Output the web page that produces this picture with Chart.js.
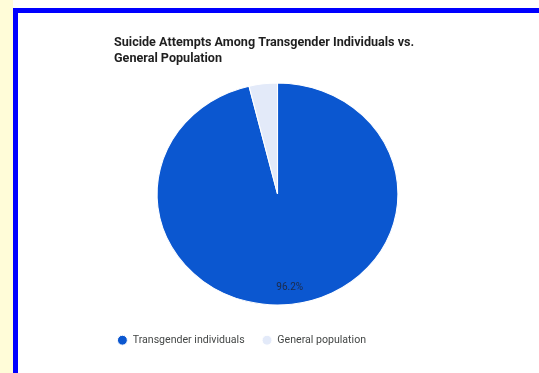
<!DOCTYPE html>
<html>
<head>
<meta charset="utf-8">
<title>Suicide Attempts Among Transgender Individuals vs. General Population</title>
<script src="https://cdn.jsdelivr.net/npm/chart.js@4.4.1/dist/chart.umd.min.js"></script>
<style>
  html, body { margin: 0; padding: 0; }
  body {
    width: 539px;
    height: 373px;
    overflow: hidden;
    position: relative;
    background: linear-gradient(to right, #fffcd8 0, #fffcd8 13px, #ffffff 13px);
  }
  .card {
    position: absolute;
    left: 13px;
    top: 8px;
    width: 540px;
    height: 380px;
    border: 5px solid #0000ff;
    background: #ffffff;
  }
  .chart-wrap {
    position: absolute;
    left: 0;
    top: 0;
    width: 521px;
    height: 360px;
  }
</style>
</head>
<body>
<div class="card">
  <div class="chart-wrap"><canvas id="pie"></canvas></div>
</div>
<script>
// ── Data ────────────────────────────────────────────────────────────────
const CATEGORIES = ['Transgender individuals', 'General population'];
const SHARES = [96.2, 3.8];
const SLICE_COLORS = ['#0b57d0', '#e3eaf9'];
const TITLE_LINES = ['Suicide Attempts Among Transgender Individuals vs.', 'General Population'];

// the pie in the reference is a touch wider than tall
const PIE_STRETCH_X = 1.085;

// ── Plugins ─────────────────────────────────────────────────────────────
const pieStretch = {
  id: 'pieStretch',
  beforeDatasetsDraw(chart) {
    const ctx = chart.ctx;
    const cx = (chart.chartArea.left + chart.chartArea.right) / 2;
    ctx.save();
    ctx.translate(cx, 0);
    ctx.scale(PIE_STRETCH_X, 1);
    ctx.translate(-cx, 0);
  },
  afterDatasetsDraw(chart) {
    chart.ctx.restore();
  }
};

// percentage text inside big slices only (small ones stay unlabeled)
const sliceLabels = {
  id: 'sliceLabels',
  afterDatasetsDraw(chart) {
    const ctx = chart.ctx;
    const meta = chart.getDatasetMeta(0);
    ctx.save();
    ctx.font = '10px Roboto';
    ctx.fillStyle = '#1d2a48';
    ctx.textAlign = 'center';
    ctx.textBaseline = 'middle';
    meta.data.forEach((arc, i) => {
      const v = SHARES[i];
      if (v < 10) return;
      const p = arc.getProps(['x', 'y', 'startAngle', 'endAngle', 'outerRadius'], true);
      const mid = (p.startAngle + p.endAngle) / 2;
      const r = p.outerRadius * 0.85;
      ctx.fillText(v.toFixed(1) + '%', p.x + Math.cos(mid) * r * PIE_STRETCH_X, p.y + Math.sin(mid) * r);
    });
    ctx.restore();
  }
};

// legend sits a bit lower and further left than the title box allows
const legendNudge = {
  id: 'legendNudge',
  afterLayout(chart) {
    const lg = chart.legend;
    lg.left -= 14; lg.right -= 14;
    lg.top += 12; lg.bottom += 12;
  }
};

// ── Chart ───────────────────────────────────────────────────────────────
Chart.defaults.font.family = "Roboto, 'Noto Sans', sans-serif";

new Chart(document.getElementById('pie'), {
  type: 'pie',
  data: {
    labels: CATEGORIES,
    datasets: [{
      data: SHARES,
      backgroundColor: SLICE_COLORS,
      borderColor: '#ffffff',
      borderWidth: 1,
    }],
  },
  options: {
    responsive: true,
    maintainAspectRatio: false,
    animation: false,
    layout: { padding: { top: 10, left: 96, right: 98, bottom: 29.5 } },
    plugins: {
      title: {
        display: true,
        text: TITLE_LINES,
        align: 'start',
        color: '#1f1f1f',
        font: { size: 12.6, weight: 'bold', lineHeight: 1.27 },
        padding: { top: 12, bottom: 15.5 },
      },
      legend: {
        position: 'bottom',
        align: 'start',
        labels: {
          usePointStyle: true,
          pointStyle: 'circle',
          boxWidth: 10,
          boxHeight: 7,
          padding: 17.4,
          color: '#444746',
          font: { size: 10.6 },
        },
      },
      tooltip: { enabled: false },
    },
  },
  plugins: [pieStretch, sliceLabels, legendNudge],
});
</script>
</body>
</html>
